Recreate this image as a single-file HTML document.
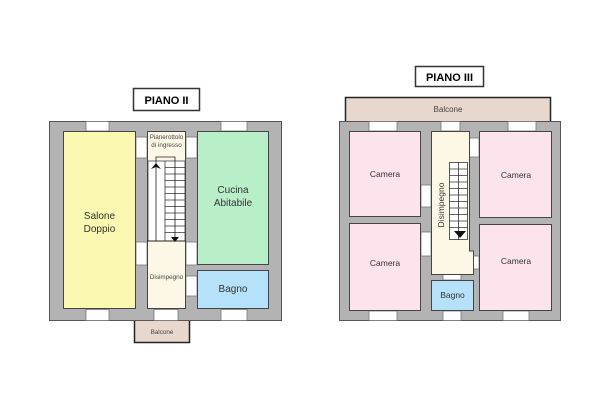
<!DOCTYPE html>
<html><head><meta charset="utf-8"><style>
html,body{margin:0;padding:0;background:#fff;width:600px;height:416px;overflow:hidden}
svg{display:block}
text{font-family:"Liberation Sans",sans-serif}
</style></head><body>
<svg width="600" height="416" viewBox="0 0 600 416" xmlns="http://www.w3.org/2000/svg">
<!-- LEFT PLAN -->
<rect x="133.5" y="88.5" width="66" height="22" fill="#fff" stroke="#333" stroke-width="1.5"/>
<text x="166.5" y="104" font-size="11" font-weight="bold" text-anchor="middle">PIANO II</text>
<rect x="49.5" y="121.5" width="232" height="199" fill="#b3b3b3" stroke="#555" stroke-width="1"/>
<!-- windows -->
<g fill="#fff" stroke="#777" stroke-width="0.8">
<rect x="86" y="121.5" width="23" height="9.5"/><rect x="221" y="121.5" width="26" height="9.5"/>
<rect x="86" y="309.5" width="23" height="11"/><rect x="154" y="309.5" width="24" height="11"/><rect x="221" y="309.5" width="26" height="11"/>
<!-- doors -->
<rect x="136" y="137" width="11" height="21"/><rect x="136" y="242" width="11" height="23"/>
<rect x="186" y="137" width="11" height="21"/><rect x="186" y="242" width="11" height="23"/><rect x="186" y="276" width="11" height="20"/>
</g>
<g stroke="#444" stroke-width="1">
<rect x="63.5" y="131.5" width="72" height="177" fill="#fbf8b2"/>
<rect x="147.5" y="131.5" width="38" height="177" fill="#fdf8e6"/>
<rect x="197.5" y="131.5" width="71" height="133" fill="#b8efc9"/>
<rect x="197.5" y="270.5" width="71" height="38" fill="#b5e2fa"/>
</g>
<!-- stairs -->
<rect x="148" y="161" width="37" height="80" fill="#fff" stroke="#444" stroke-width="0.8"/>
<line x1="165" y1="161" x2="165" y2="241" stroke="#333" stroke-width="0.8"/>
<g stroke="#333" stroke-width="0.8">
<line x1="165" y1="167.5" x2="185" y2="167.5"/><line x1="165" y1="174" x2="185" y2="174"/>
<line x1="165" y1="180.5" x2="185" y2="180.5"/><line x1="165" y1="187" x2="185" y2="187"/>
<line x1="165" y1="193.5" x2="185" y2="193.5"/><line x1="165" y1="200" x2="185" y2="200"/>
<line x1="165" y1="206.5" x2="185" y2="206.5"/><line x1="165" y1="213" x2="185" y2="213"/>
<line x1="165" y1="219.5" x2="185" y2="219.5"/><line x1="165" y1="226" x2="185" y2="226"/>
<line x1="165" y1="232.5" x2="185" y2="232.5"/>
</g>
<polyline points="156,170 156,157 175,157 175,240" fill="none" stroke="#222" stroke-width="0.8"/>
<line x1="156" y1="170" x2="156" y2="241" stroke="#222" stroke-width="0.8"/>
<polygon points="151,169 156,163 161,169 156,167" fill="#111"/>
<polygon points="171,237 179,237 175,242" fill="#111"/>
<line x1="147" y1="241" x2="186" y2="241" stroke="#222" stroke-width="1"/>
<text x="166.5" y="139" font-size="6.3" fill="#444" text-anchor="middle">Pianerottolo</text>
<text x="166.5" y="147" font-size="6.3" fill="#444" text-anchor="middle">di ingresso</text>
<text x="166.5" y="279" font-size="6.3" fill="#444" text-anchor="middle">Disimpegno</text>
<text x="99.5" y="219" font-size="10" fill="#333" text-anchor="middle">Salone</text>
<text x="99.5" y="232" font-size="10" fill="#333" text-anchor="middle">Doppio</text>
<text x="233" y="193" font-size="10" fill="#333" text-anchor="middle">Cucina</text>
<text x="233" y="206" font-size="10" fill="#333" text-anchor="middle">Abitabile</text>
<text x="233" y="292" font-size="10" fill="#333" text-anchor="middle">Bagno</text>
<path d="M134.5 321 V342.5 H189.5 V321" fill="#e8d7cc" stroke="#222" stroke-width="1.5"/>
<text x="162" y="334" font-size="6.3" fill="#444" text-anchor="middle">Balcone</text>

<!-- RIGHT PLAN -->
<rect x="415.5" y="66.5" width="68" height="20" fill="#fff" stroke="#333" stroke-width="1.5"/>
<text x="449.5" y="81" font-size="11" font-weight="bold" text-anchor="middle">PIANO III</text>
<path d="M345.5 121 V97.5 H550.5 V121" fill="#e8d7cc" stroke="#222" stroke-width="1.5"/>
<text x="448" y="112" font-size="8" fill="#444" text-anchor="middle">Balcone</text>
<rect x="339.5" y="121.5" width="221" height="199" fill="#b3b3b3" stroke="#555" stroke-width="1"/>
<g fill="#fff" stroke="#777" stroke-width="0.8">
<rect x="369" y="121.5" width="28" height="9.5"/><rect x="441" y="121.5" width="19" height="9.5"/><rect x="508" y="121.5" width="28" height="9.5"/>
<rect x="369" y="311" width="28" height="9.5"/><rect x="443" y="311" width="18" height="9.5"/><rect x="503" y="311" width="26" height="9.5"/>
<rect x="421" y="185" width="10" height="22"/><rect x="421" y="232" width="10" height="24"/>
<rect x="469" y="138" width="10" height="19"/><rect x="472" y="256" width="7" height="13"/>
<rect x="443" y="274" width="18" height="6"/>
</g>
<g stroke="#444" stroke-width="1">
<rect x="349.5" y="131.5" width="71" height="85" fill="#fde4ec"/>
<rect x="349.5" y="223.5" width="71" height="87" fill="#fde4ec"/>
<rect x="479.5" y="131.5" width="72" height="86" fill="#fde4ec"/>
<rect x="479.5" y="224.5" width="72" height="86" fill="#fde4ec"/>
<path d="M431.5 131.5 H469.5 V251 H473.5 V274.5 H431.5 Z" fill="#fdf8e6"/>
<rect x="431.5" y="280.5" width="42" height="30" fill="#b5e2fa"/>
</g>
<rect x="449.5" y="162.5" width="18" height="77" fill="#fff" stroke="#333" stroke-width="0.8"/>
<g stroke="#333" stroke-width="0.8">
<line x1="458.5" y1="162" x2="458.5" y2="240"/>
<line x1="449.5" y1="169" x2="467.5" y2="169"/><line x1="449.5" y1="175.5" x2="467.5" y2="175.5"/>
<line x1="449.5" y1="182" x2="467.5" y2="182"/><line x1="449.5" y1="188.5" x2="467.5" y2="188.5"/>
<line x1="449.5" y1="195" x2="467.5" y2="195"/><line x1="449.5" y1="201.5" x2="467.5" y2="201.5"/>
<line x1="449.5" y1="208" x2="467.5" y2="208"/><line x1="449.5" y1="214.5" x2="467.5" y2="214.5"/>
<line x1="449.5" y1="221" x2="467.5" y2="221"/><line x1="449.5" y1="227.5" x2="467.5" y2="227.5"/>
</g>
<polygon points="454,231 466,231 460,238" fill="#111"/>
<text transform="translate(444,205) rotate(-90)" font-size="8.5" fill="#333" text-anchor="middle">Disimpegno</text>
<text x="385" y="177" font-size="8.5" fill="#333" text-anchor="middle">Camera</text>
<text x="385" y="266" font-size="8.5" fill="#333" text-anchor="middle">Camera</text>
<text x="516" y="178" font-size="8.5" fill="#333" text-anchor="middle">Camera</text>
<text x="516" y="264" font-size="8.5" fill="#333" text-anchor="middle">Camera</text>
<text x="452.5" y="298" font-size="8.5" fill="#333" text-anchor="middle">Bagno</text>
</svg>
</body></html>
